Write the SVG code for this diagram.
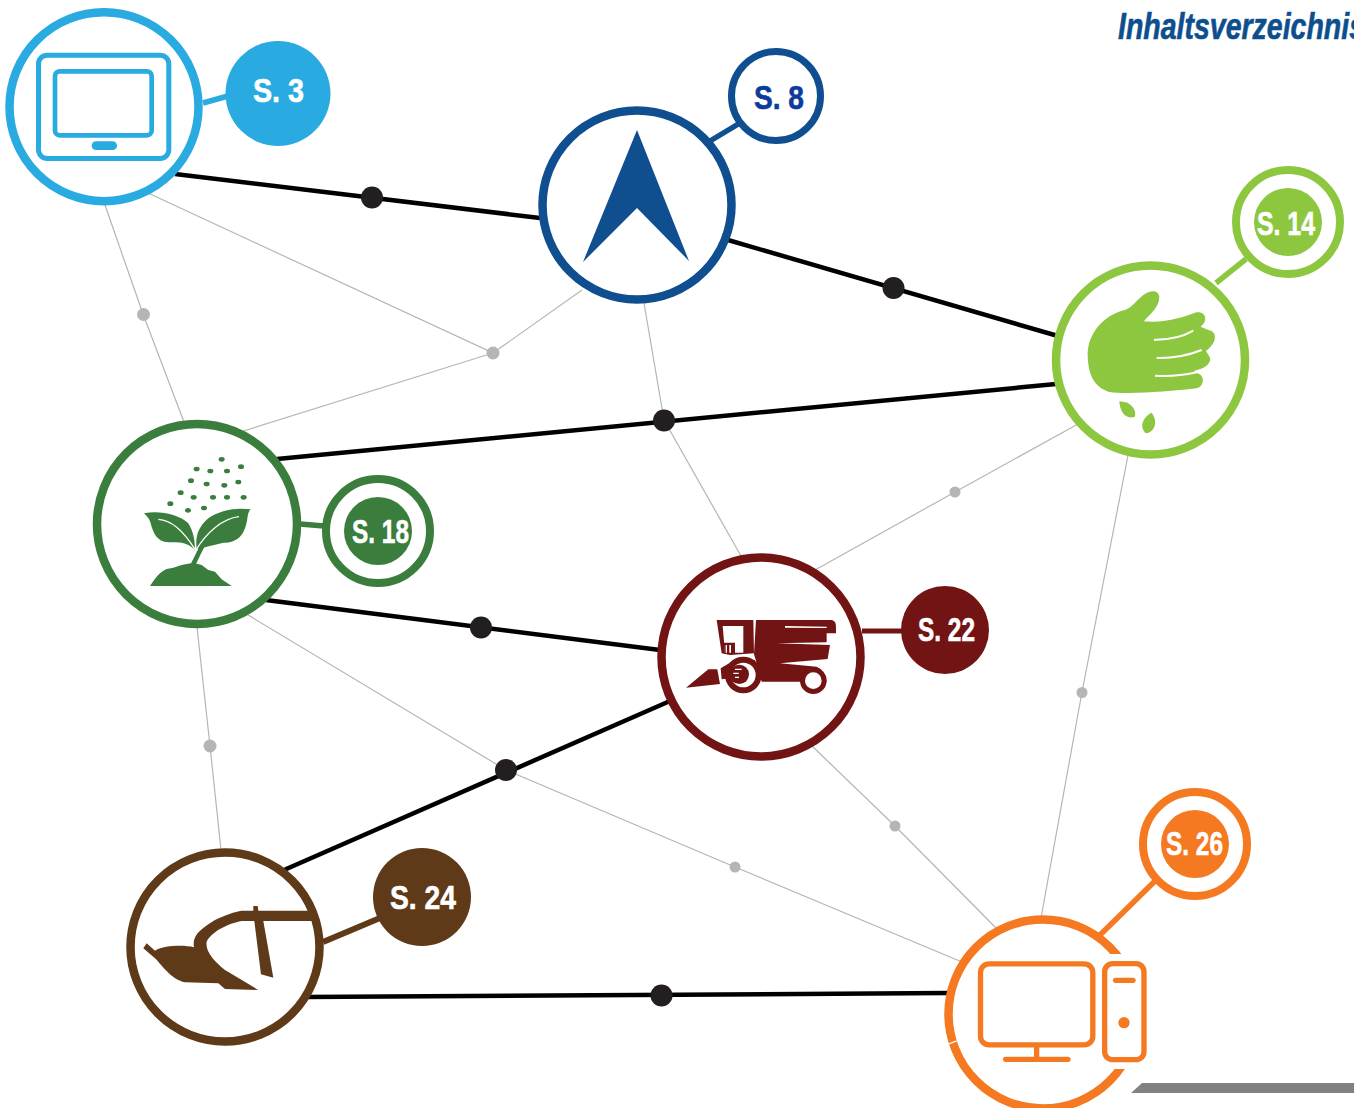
<svg xmlns="http://www.w3.org/2000/svg" width="1354" height="1108" viewBox="0 0 1354 1108">
<style>
.bl{stroke:#000;stroke-width:4.500;fill:none}
.gr{stroke:#b5b5b5;stroke-width:1.200;fill:none}
.bd{fill:#231f20}
.gd{fill:#b5b5b5}
.ring{fill:#fff;stroke-width:8.500}
.t{font-family:"Liberation Sans Narrow","Liberation Sans",sans-serif;font-weight:700;font-size:33px;fill:#fff;stroke:#fff;stroke-width:.6}
.title{font-family:"Liberation Sans Narrow","Liberation Sans",sans-serif;font-weight:700;font-style:italic;font-size:36px;fill:#0d4f8e;stroke:#0d4f8e;stroke-width:.6}
.cy{stroke:#29abe2}.nv{stroke:#0f4f90}.lm{stroke:#8dc63f}.gn{stroke:#3a7d3c}.mr{stroke:#731414}.br{stroke:#5f3a19}.or{stroke:#f47920}
</style>
<rect width="1354" height="1108" fill="#fff"/>
<text class="title" x="1118" y="39" textLength="247" lengthAdjust="spacingAndGlyphs">Inhaltsverzeichnis</text>
<polygon points="1131,1093 1142,1083 1354,1083 1354,1093" fill="#848080"/>
<g id="connectors">
<polyline class="gr" points="105,205 143,314 184,422"/>
<polyline class="gr" points="148,193 493,353 240,432"/>
<line class="gr" x1="582" y1="290" x2="493" y2="353"/>
<polyline class="gr" points="644,303 664,420 741,556"/>
<polyline class="gr" points="1078,424 955,492 815,570"/>
<polyline class="gr" points="1130,445 1082,692 1041,918"/>
<polyline class="gr" points="197,627 210,746 221,850"/>
<polyline class="gr" points="248,615 506,770 735,867 962,962"/>
<polyline class="gr" points="812,746 895,826 998,930"/>
<circle class="gd" cx="143.500" cy="314.500" r="6.500"/>
<circle class="gd" cx="493" cy="353" r="6.500"/>
<circle class="gd" cx="955" cy="492" r="5.500"/>
<circle class="gd" cx="1082" cy="692.500" r="5.500"/>
<circle class="gd" cx="210" cy="746" r="6.500"/>
<circle class="gd" cx="735" cy="867" r="5.500"/>
<circle class="gd" cx="895" cy="826" r="5.500"/>
<line class="bl" x1="175" y1="174" x2="540" y2="218"/>
<line class="bl" x1="728" y1="240" x2="1058" y2="336"/>
<line class="bl" x1="277" y1="459" x2="1056" y2="384"/>
<line class="bl" x1="266" y1="600" x2="660" y2="650"/>
<line class="bl" x1="284" y1="870" x2="670" y2="701"/>
<line class="bl" x1="305" y1="997" x2="948" y2="993"/>
<circle class="bd" cx="372" cy="197.500" r="11"/>
<circle class="bd" cx="893.500" cy="288" r="11"/>
<circle class="bd" cx="664" cy="420.500" r="11"/>
<circle class="bd" cx="481" cy="627.500" r="11"/>
<circle class="bd" cx="506" cy="770" r="11"/>
<circle class="bd" cx="661.500" cy="995.500" r="11"/>
<line class="cy" stroke-width="5.500" x1="203" y1="103" x2="228" y2="96"/>
<line class="nv" stroke-width="5.500" x1="710" y1="141" x2="740" y2="123"/>
<line class="lm" stroke-width="5.500" x1="1216" y1="283" x2="1246" y2="259"/>
<line class="gn" stroke-width="5.500" x1="300" y1="524" x2="324" y2="526"/>
<line class="mr" stroke-width="5" x1="862" y1="631" x2="902" y2="631"/>
<line class="br" stroke-width="6" x1="323" y1="942" x2="380" y2="918"/>
<line class="or" stroke-width="5.500" x1="1100" y1="935" x2="1155" y2="881"/>
</g>
<g id="node-monitor">
<circle class="ring cy" cx="104" cy="106.700" r="94.500"/>
<g transform="scale(.3333)" fill="none" stroke="#29abe2">
<rect x="115.500" y="165.500" width="391" height="310" rx="26" stroke-width="15"/>
<rect x="165" y="214" width="290" height="192" rx="14" stroke-width="14"/>
<rect x="275" y="424" width="76" height="26" rx="13" fill="#29abe2" stroke="none"/>
</g>
</g>
<g id="badge-s3">
<circle cx="278" cy="93.500" r="52.500" fill="#29abe2"/>
<text class="t" x="253" y="102" textLength="51" lengthAdjust="spacingAndGlyphs">S. 3</text>
</g>
<g id="node-navigation">
<circle class="ring nv" cx="637" cy="205" r="94.500"/>
<polygon points="637,130 689,261 637,208 583,262" fill="#0f4f90"/>
</g>
<g id="badge-s8">
<circle class="nv" cx="776" cy="96" r="44.500" fill="#fff" stroke-width="7"/>
<text class="t" x="754" y="109" textLength="50" lengthAdjust="spacingAndGlyphs" style="fill:#0b3c9b;stroke:#0b3c9b">S. 8</text>
</g>
<g id="node-hand">
<circle class="ring lm" cx="1150.500" cy="360" r="94.500"/>
<g transform="translate(1050 160) scale(.3333)" fill="#8dc63f">
<path d="M282,484 C295,465 328,445 328,410 C325,388 300,390 280,405 C260,420 250,440 225,450 C160,465 115,520 113,580 C113,640 130,680 175,695 C230,705 350,695 440,685 C465,680 465,642 440,640 L432,632 C475,625 490,600 475,585 L468,573 C500,550 505,515 475,510 L452,500 C478,480 465,450 435,458 C400,470 350,490 282,484Z"/>
<path d="M312,539 C350,540 390,535 430,512 M320,594 C360,595 405,590 455,570 M315,647 C350,650 390,648 440,637" fill="none" stroke="#fff" stroke-width="6"/>
<path d="M208,724 C240,725 260,745 255,770 C225,780 210,755 208,724Z"/>
<path d="M305,758 C325,785 315,815 288,820 C265,800 280,770 305,758Z"/>
</g>
</g>
<g id="badge-s14">
<circle class="lm" cx="1288" cy="222" r="52" fill="#fff" stroke-width="8"/>
<circle cx="1288" cy="222" r="34" fill="#8dc63f"/>
<text class="t" x="1257" y="235" textLength="58" lengthAdjust="spacingAndGlyphs">S. 14</text>
</g>
<g id="node-plant">
<circle class="ring gn" cx="197" cy="524" r="100"/>
<g transform="translate(90 420) scale(.3333)" fill="#3a7d3c">
<ellipse cx="395" cy="118" rx="9" ry="7"/><ellipse cx="320" cy="147" rx="9" ry="7"/><ellipse cx="361" cy="153" rx="9" ry="7"/><ellipse cx="411" cy="153" rx="9" ry="7"/><ellipse cx="453" cy="140" rx="9" ry="7"/><ellipse cx="303" cy="182" rx="9" ry="7"/><ellipse cx="350" cy="192" rx="9" ry="7"/><ellipse cx="403" cy="196" rx="9" ry="7"/><ellipse cx="445" cy="186" rx="9" ry="7"/><ellipse cx="272" cy="218" rx="9" ry="7"/><ellipse cx="311" cy="232" rx="9" ry="7"/><ellipse cx="369" cy="232" rx="9" ry="7"/><ellipse cx="411" cy="232" rx="9" ry="7"/><ellipse cx="461" cy="232" rx="9" ry="7"/><ellipse cx="241" cy="251" rx="9" ry="7"/><ellipse cx="294" cy="271" rx="9" ry="7"/><ellipse cx="342" cy="264" rx="9" ry="7"/>
</g>
<g transform="translate(140 500) scale(.3333)" fill="#3a7d3c">
<path d="M12,40 C60,30 120,45 145,70 C160,95 165,120 165,150 C140,125 120,128 85,127 C50,125 40,100 32,70 C28,55 20,48 12,40Z"/>
<path d="M332,28 C320,40 325,60 315,85 C305,115 280,130 250,128 L170,148 C165,110 175,80 205,55 C240,30 290,22 332,28Z"/>
<path d="M30,258 C45,235 60,215 80,207 L100,203 L125,195 L160,188 L185,195 L205,210 L225,215 L245,238 L275,258Z"/>
<path d="M160,192 C170,172 178,155 187,138" fill="none" stroke="#3a7d3c" stroke-width="14"/>
<path d="M55,58 C100,60 135,100 165,148 M297,50 C250,55 200,95 165,155" fill="none" stroke="#fff" stroke-width="4"/>
</g>
</g>
<g id="badge-s18">
<circle class="gn" cx="378" cy="531" r="52" fill="#fff" stroke-width="8"/>
<circle cx="378" cy="531" r="34" fill="#3a7d3c"/>
<text class="t" x="352" y="543" textLength="57" lengthAdjust="spacingAndGlyphs">S. 18</text>
</g>
<g id="node-combine">
<circle class="ring mr" cx="761" cy="657" r="99.500"/>
<g transform="translate(680 610) scale(.3333)" fill="#731414">
<path fill-rule="evenodd" d="M110,30 L220,30 L222,130 L150,135 L125,130Z M128,48 L190,48 L190,128 L135,128Z"/>
<path d="M131,98 L165,98 L165,130 L135,130Z"/>
<path d="M137,105 h4 v23 h-4Z M148,105 h5 v23 h-5Z" fill="#fff"/>
<path d="M228,30 L455,30 Q468,32 468,50 L468,70 L440,70 L440,97 L290,100 L450,105 L443,147 L300,160 L410,170 Q435,180 440,215 L245,215 L230,160 L222,132Z"/>
<path d="M315,48 L440,50 L440,54 L315,53Z" fill="#fff"/>
<path d="M122,175 L150,158 L225,150 L230,205 L150,205 L125,208Z"/>
<circle cx="400" cy="212" r="40"/><circle cx="400" cy="212" r="25" fill="#fff"/>
<circle cx="190" cy="195" r="55"/><circle cx="190" cy="195" r="37" fill="#fff"/><circle cx="178" cy="193" r="29"/>
<path d="M165,178 h20 M160,190 h16 M165,202 h12" stroke="#fff" stroke-width="4" fill="none"/>
<path d="M18,233 L85,178 L112,178 L120,222Z"/>
</g>
</g>
<g id="badge-s22">
<circle cx="945" cy="630" r="44" fill="#731414"/>
<text class="t" x="918" y="641" textLength="57" lengthAdjust="spacingAndGlyphs">S. 22</text>
</g>
<g id="node-plough">
<circle class="ring br" cx="225" cy="947" r="94.500"/>
<g transform="translate(125 845) scale(.3333)" fill="#5f3a19">
<path d="M350,197 L385,197 L385,183 L398,183 L400,197 L550,197 L565,228 L400,228 L350,228 C310,235 260,260 245,290 C240,320 270,350 300,375 L400,435 L300,432 L280,415 L180,412 C140,405 110,360 90,340 L55,310 L65,295 L90,317 C120,300 180,300 207,307 C200,270 230,250 270,225 C300,210 330,200 350,197Z"/>
<path d="M388,228 L415,228 L445,398 L408,388Z"/>
</g>
</g>
<g id="badge-s24">
<circle cx="422" cy="897" r="49" fill="#5f3a19"/>
<text class="t" x="390" y="909" textLength="66" lengthAdjust="spacingAndGlyphs">S. 24</text>
</g>
<g id="node-computer">
<circle class="ring or" cx="1043" cy="1014" r="94.500"/>
<rect x="1100" y="954" width="60" height="115" fill="#fff"/>
<g transform="translate(940 780) scale(.3333)" fill="none" stroke="#f47920" stroke-width="16">
<rect x="121.500" y="551.500" width="337" height="243" rx="26"/>
<path d="M290,803 V838 M197,838 H384" stroke-linecap="round"/>
<rect x="494" y="551" width="118" height="288" rx="24"/>
<path d="M527,601 H579" stroke-linecap="round"/>
<circle cx="552" cy="728" r="17" fill="#f47920" stroke="none"/>
<path d="M27,792 L50,783" stroke="#fff" stroke-width="4"/>
</g>
</g>
<g id="badge-s26">
<circle class="or" cx="1195" cy="844" r="52" fill="#fff" stroke-width="8"/>
<circle cx="1195" cy="844" r="34" fill="#f47920"/>
<text class="t" x="1166" y="855" textLength="57" lengthAdjust="spacingAndGlyphs">S. 26</text>
</g>
</svg>
